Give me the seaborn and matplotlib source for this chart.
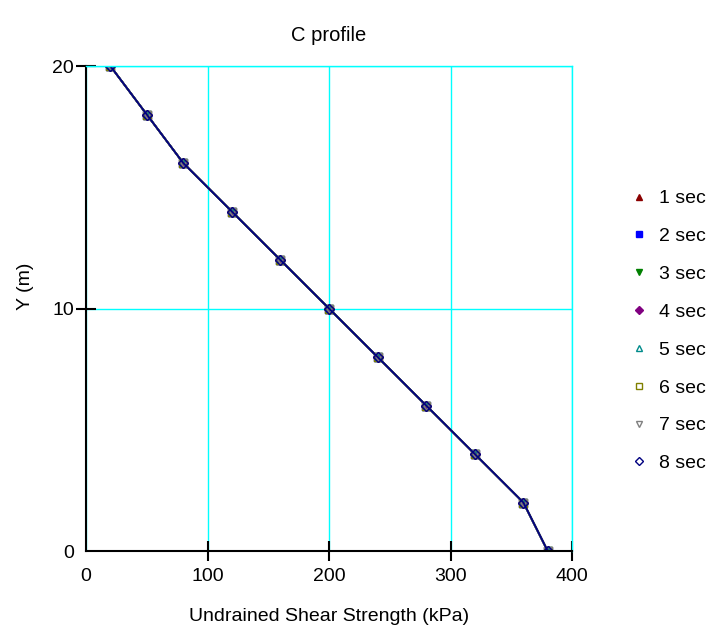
import matplotlib
matplotlib.use("Agg")
import matplotlib.pyplot as plt
from matplotlib.lines import Line2D
import seaborn as sns
import pandas as pd

depth = [20, 18, 16, 14, 12, 10, 8, 6, 4, 2, 0]
strength = [20, 50, 80, 120, 160, 200, 240, 280, 320, 360, 380]
series = ["1 sec", "2 sec", "3 sec", "4 sec", "5 sec", "6 sec", "7 sec", "8 sec"]
colors = ["#8b0000", "#0000ff", "#008000", "#800080", "#008b8b", "#808000", "#808080", "#000080"]
marker_shapes = ["^", "s", "v", "D", "^", "s", "v", "D"]
filled = [True, True, True, True, False, False, False, False]

sns.set_style("white")
plt.rcParams["font.family"] = ["Liberation Sans", "DejaVu Sans"]
plt.rcParams["text.color"] = "black"
plt.rcParams["axes.labelcolor"] = "black"

rows = []
for s in series:
    for d, v in zip(depth, strength):
        rows.append({"series": s, "depth": d, "strength": v})
df = pd.DataFrame(rows)

fig = plt.figure(figsize=(7.11, 6.28), dpi=100)
ax = fig.add_axes([0.121, 0.1226, 0.6835, 0.7723])

for i, s in enumerate(series):
    sub = df[df["series"] == s]
    sns.lineplot(data=sub, x="strength", y="depth", sort=False, estimator=None,
                 color=colors[i], marker=marker_shapes[i],
                 markersize=6 if marker_shapes[i] != "D" else 5,
                 markerfacecolor=colors[i] if filled[i] else "none",
                 markeredgecolor=colors[i], markeredgewidth=1.0,
                 linewidth=1.3, ax=ax, legend=False)

ax.set_xlim(0, 400)
ax.set_ylim(0, 20)
ax.set_xticks([0, 100, 200, 300, 400])
ax.set_yticks([0, 10, 20])
ax.grid(True, color="#00ffff", linewidth=1)
ax.set_axisbelow(True)
for side in ["top", "right"]:
    ax.spines[side].set_color("#00ffff")
    ax.spines[side].set_linewidth(1)
for side in ["left", "bottom"]:
    ax.spines[side].set_color("black")
    ax.spines[side].set_linewidth(1.5)
ax.tick_params(axis="both", which="major", bottom=True, left=True, top=False, right=False,
               direction="inout", length=15, width=1.5, labelsize=14, colors="black")
ax.tick_params(axis="x", pad=5)
ax.tick_params(axis="y", pad=1)
ax.xaxis.get_major_ticks()[0].tick1line.set_visible(False)
ax.yaxis.get_major_ticks()[0].tick1line.set_visible(False)
ax.set_xlabel("Undrained Shear Strength (kPa)", fontsize=14, labelpad=16)
ax.set_ylabel("Y (m)", fontsize=14)
ax.yaxis.set_label_coords(-0.107, 0.545)
ax.set_title("C profile", fontsize=14.5, pad=18)

handles = [Line2D([], [], linestyle="none", marker=marker_shapes[i],
                  markersize=5 if marker_shapes[i] != "D" else 4,
                  markerfacecolor=colors[i] if filled[i] else "none",
                  markeredgecolor=colors[i], markeredgewidth=1.0)
           for i in range(len(series))]
fig.legend(handles, series, loc="center left", bbox_to_anchor=(0.861, 0.473),
           frameon=False, fontsize=14, labelspacing=1.04, handletextpad=0.53, handlelength=1.0)

fig.savefig("out.png", dpi=100)
